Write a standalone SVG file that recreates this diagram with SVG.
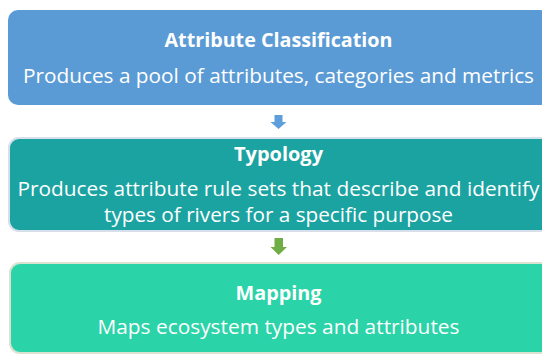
<svg xmlns="http://www.w3.org/2000/svg" width="542" height="354" viewBox="0 0 542 354">
<style>
.title{font-family:"Open Sans","Liberation Sans",sans-serif;font-weight:bold;font-size:19px;fill:#fff;text-anchor:middle}
.body{font-family:"Open Sans","Liberation Sans",sans-serif;font-size:20.5px;fill:#fff;text-anchor:middle}
</style>
<rect width="542" height="354" fill="#fff"/>
<g id="node-attribute-classification">
<rect x="8" y="10" width="542" height="95" rx="10" fill="#5B9BD5"/>
<text class="title" x="278.5" y="47" textLength="228" lengthAdjust="spacingAndGlyphs">Attribute Classification</text>
<text class="body" x="278.5" y="83" textLength="511" lengthAdjust="spacingAndGlyphs">Produces a pool of attributes, categories and metrics</text>
</g>
<g id="node-typology">
<rect x="9" y="138" width="542" height="93" rx="10" fill="#1BA3A2" stroke="#D6DFEA" stroke-width="2"/>
<text class="title" x="278.5" y="161" textLength="89" lengthAdjust="spacingAndGlyphs">Typology</text>
<text class="body" x="278.5" y="196" textLength="522" lengthAdjust="spacingAndGlyphs">Produces attribute rule sets that describe and identify</text>
<text class="body" x="278.5" y="222" textLength="349" lengthAdjust="spacingAndGlyphs">types of rivers for a specific purpose</text>
</g>
<g id="node-mapping">
<rect x="10" y="263" width="542" height="90" rx="10" fill="#2AD3A8" stroke="#D9E3CF" stroke-width="2"/>
<text class="title" x="278.5" y="300" textLength="86" lengthAdjust="spacingAndGlyphs">Mapping</text>
<text class="body" x="278.5" y="334" textLength="362" lengthAdjust="spacingAndGlyphs">Maps ecosystem types and attributes</text>
</g>
<g id="connectors">
<path d="M274.5 115 H282.5 V122 H286.5 L278.5 129 L270.5 122 H274.5 Z" fill="#5E9EDB"/>
<path d="M274.5 238 H283 V247 H287 L278.7 255 L270.5 247 H274.5 Z" fill="#70AD47"/>
</g>
</svg>
